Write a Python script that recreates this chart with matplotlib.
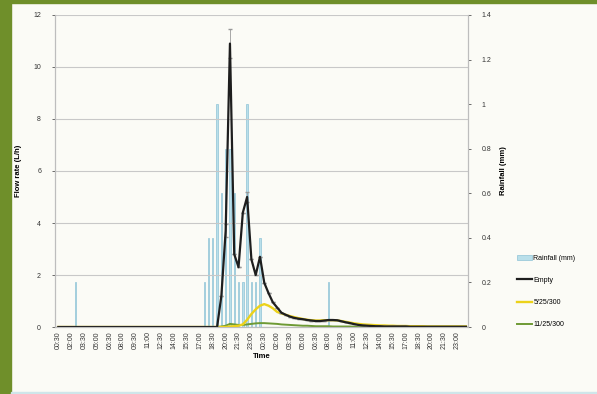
import numpy as np
import matplotlib
matplotlib.use("Agg")
from matplotlib import pyplot as plt
from matplotlib.patches import Rectangle

plt.rcParams['font.family'] = ['Liberation Sans Narrow', 'Liberation Sans', 'DejaVu Sans']

# tick labels every 1.5 h, data every 30 min (two days)
time_labels = ["00:30", "02:00", "03:30", "05:00", "06:30", "08:00", "09:30", "11:00",
               "12:30", "14:00", "15:30", "17:00", "18:30", "20:00", "21:30", "23:00"] * 2

# rainfall (mm) per 30 min step
rain = [0, 0, 0, 0, 0.2, 0, 0, 0, 0, 0, 0, 0, 0, 0, 0, 0,
        0, 0, 0, 0, 0, 0, 0, 0, 0, 0, 0, 0, 0, 0, 0, 0,
        0, 0, 0.2, 0.4, 0.4, 1.0, 0.6, 0.8, 0.8, 0.6, 0.2, 0.2, 1.0, 0.2, 0.2, 0.4,
        0, 0, 0, 0, 0, 0, 0, 0, 0, 0, 0, 0, 0, 0, 0, 0.2,
        0, 0, 0, 0, 0, 0, 0, 0, 0, 0, 0, 0, 0, 0, 0, 0,
        0, 0, 0, 0, 0, 0, 0, 0, 0, 0, 0, 0, 0, 0, 0, 0]

# flow rate (L/h)
empty = [0, 0, 0, 0, 0, 0, 0, 0, 0, 0, 0, 0, 0, 0, 0, 0,
         0, 0, 0, 0, 0, 0, 0, 0, 0, 0, 0, 0, 0, 0, 0, 0,
         0, 0, 0, 0, 0, 0, 1.2, 3.7, 10.9, 2.8, 2.3, 4.4, 5.0, 2.6, 2.0, 2.7,
         1.7, 1.3, 0.95, 0.75, 0.55, 0.47, 0.4, 0.35, 0.32, 0.3, 0.27, 0.25, 0.23, 0.23, 0.25, 0.27,
         0.27, 0.26, 0.22, 0.18, 0.15, 0.11, 0.08, 0.06, 0.05, 0.04, 0.03, 0.03, 0.02, 0.02, 0.02, 0.02,
         0.02, 0.02, 0.01, 0.01, 0.01, 0.01, 0.01, 0.01, 0.01, 0.01, 0.01, 0.01, 0.01, 0.01, 0.01, 0.01]

s5 = [0, 0, 0, 0, 0, 0, 0, 0, 0, 0, 0, 0, 0, 0, 0, 0,
      0, 0, 0, 0, 0, 0, 0, 0, 0, 0, 0, 0, 0, 0, 0, 0,
      0, 0, 0, 0, 0, 0, 0, 0, 0.02, 0.03, 0.05, 0.1, 0.28, 0.5, 0.68, 0.82,
      0.88, 0.82, 0.72, 0.58, 0.52, 0.47, 0.42, 0.38, 0.34, 0.31, 0.28, 0.26, 0.25, 0.25, 0.26, 0.26,
      0.26, 0.25, 0.23, 0.2, 0.17, 0.14, 0.12, 0.1, 0.09, 0.08, 0.07, 0.06, 0.06, 0.05, 0.05, 0.04,
      0.04, 0.04, 0.03, 0.03, 0.03, 0.03, 0.02, 0.02, 0.02, 0.02, 0.02, 0.02, 0.02, 0.02, 0.02, 0.02]

s11 = [0, 0, 0, 0, 0, 0, 0, 0, 0, 0, 0, 0, 0, 0, 0, 0,
       0, 0, 0, 0, 0, 0, 0, 0, 0, 0, 0, 0, 0, 0, 0, 0,
       0, 0, 0, 0, 0, 0, 0.02, 0.05, 0.12, 0.1, 0.08, 0.08, 0.1, 0.12, 0.14, 0.15,
       0.15, 0.14, 0.13, 0.12, 0.1, 0.09, 0.08, 0.07, 0.06, 0.05, 0.05, 0.04, 0.03, 0.03, 0.03, 0.03,
       0.02, 0.02, 0.02, 0.02, 0.02, 0.01, 0.01, 0.01, 0.01, 0.01, 0.01, 0.01, 0.01, 0.01, 0.01, 0.01,
       0.01, 0.01, 0.01, 0.01, 0.01, 0.01, 0.01, 0.01, 0.01, 0.01, 0.01, 0.01, 0.01, 0.01, 0.01, 0.01]

# error bars on the empty series (only a few visible)
empty_err = [0.0] * 96
empty_err[39] = 0.25
empty_err[40] = 0.55
empty_err[44] = 0.2

x = np.arange(len(empty))

fig = plt.figure(figsize=(5.97, 3.94), dpi=100, facecolor='#fbfbf6')
# green frame of the slide
fig.patches.append(Rectangle((0, 0), 0.018, 1, transform=fig.transFigure, color='#6f8f2a', zorder=0))
fig.patches.append(Rectangle((0, 0.992), 1, 0.008, transform=fig.transFigure, color='#6f8f2a', zorder=0))
fig.patches.append(Rectangle((0.018, 0.0), 0.982, 0.006, transform=fig.transFigure, color='#cfe6ea', zorder=0))

ax = fig.add_axes([0.092, 0.170, 0.692, 0.792])
ax2 = ax.twinx()

# rainfall bars behind the lines
ax2.bar(x, rain, width=0.32, color='#b9dfea', edgecolor='#8fc3d6', linewidth=0.5, label='Rainfall (mm)')
ax2.set_ylim(0, 1.4)
ax2.set_yticks(np.arange(0, 1.41, 0.2))
ax2.set_yticklabels(["0", "0.2", "0.4", "0.6", "0.8", "1", "1.2", "1.4"])
ax2.set_ylabel("Rainfall (mm)", fontsize=5.5, fontweight='bold', labelpad=6)

ax.set_zorder(ax2.get_zorder() + 1)
ax.patch.set_visible(False)
ax2.set_facecolor('white')

ax.plot(x, s11, color='#6e9a34', lw=1.4, label='11/25/300')
ax.plot(x, s5, color='#ecd21a', lw=1.7, label='5/25/300')
ax.errorbar(x, empty, yerr=empty_err, fmt='none', ecolor='#999999', elinewidth=0.6, capsize=1.5)
ax.plot(x, empty, color='#1e1e1e', lw=1.6, label='Empty')

ax.set_ylim(0, 12)
ax.set_yticks(range(0, 13, 2))
ax.set_xlim(-0.8, 95.5)
ax.set_xticks(x[::3])
ax.set_xticklabels(time_labels, rotation=90)
ax.set_ylabel("Flow rate (L/h)", fontsize=5.5, fontweight='bold', labelpad=8)
ax.set_xlabel("Time", fontsize=5.5, fontweight='bold', labelpad=3)
ax.yaxis.grid(True, color='#c8c8c8', lw=0.8)
ax.set_axisbelow(True)

for a in (ax, ax2):
    a.tick_params(labelsize=5, colors='#333333', length=2, width=0.5)
    a.tick_params(axis='y', pad=8)
    for side in a.spines:
        a.spines[side].set_color('#bdbdbd')
        a.spines[side].set_linewidth(0.8)
    a.spines['top'].set_visible(False)
ax.tick_params(axis='x', length=0, pad=3)

# legend off to the right
h1, l1 = ax2.get_legend_handles_labels()
h2, l2 = ax.get_legend_handles_labels()
hd = dict(zip(l1 + l2, h1 + h2))
order = ['Rainfall (mm)', 'Empty', '5/25/300', '11/25/300']
fig.legend([hd[k] for k in order], order, loc='center left', bbox_to_anchor=(0.855, 0.26),
           frameon=False, fontsize=5, labelspacing=2.2, handlelength=2.2, handletextpad=0.2)

fig.savefig("out.png", dpi=100, facecolor=fig.get_facecolor())
